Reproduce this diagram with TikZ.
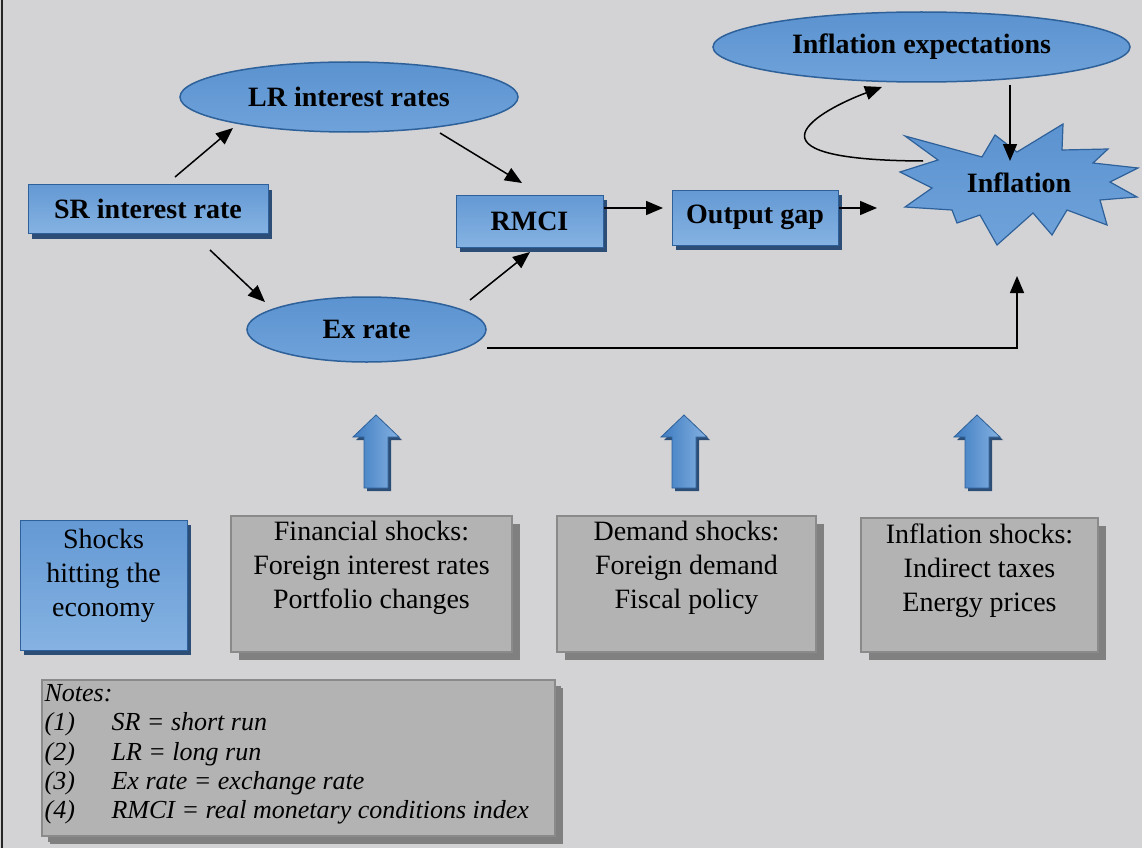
\documentclass[tikz,border=0pt]{standalone}
\usepackage{fontspec}
\setmainfont{LiberationSerif}[Extension=.ttf,UprightFont=*-Regular,BoldFont=*-Bold,ItalicFont=*-Italic,BoldItalicFont=*-BoldItalic]
\usetikzlibrary{shapes.geometric,arrows.meta,shadows}
\definecolor{bg}{HTML}{D3D3D5}
\definecolor{blueA}{HTML}{6499D4}
\definecolor{blueB}{HTML}{3D7BC0}
\definecolor{blueC}{HTML}{85B2E2}
\definecolor{ellA}{HTML}{5B93D0}
\definecolor{ellB}{HTML}{3B78BD}
\definecolor{ellC}{HTML}{6FA2DA}
\definecolor{blueedge}{HTML}{2E6099}
\definecolor{blueshadow}{HTML}{2C4E76}
\definecolor{grayfill}{HTML}{B3B3B3}
\definecolor{grayedge}{HTML}{8A8A8A}
\definecolor{grayshadow}{HTML}{808080}
\begin{document}
\begin{tikzpicture}[x=1pt,y=-1pt,
  arr/.style={line width=1.5pt,-{Triangle[length=17pt,width=14pt]}},
  bluefill/.style={top color=blueA,middle color=blueB,bottom color=blueC},
  ellfill/.style={top color=ellA,middle color=ellB,bottom color=ellC},
  lbl/.style={font=\fontsize{28}{32}\selectfont\bfseries},
  bluebox/.style={rectangle,draw=blueedge,line width=1pt,bluefill,inner sep=0pt,lbl,
    general shadow={fill=blueshadow,shadow xshift=4pt,shadow yshift=-5pt}},
  blueell/.style={ellipse,draw=blueedge,line width=1.5pt,ellfill,inner sep=0pt,lbl},
  graybox/.style={rectangle,draw=grayedge,line width=1.5pt,fill=grayfill,inner sep=0pt,
    general shadow={fill=grayshadow,shadow xshift=8pt,shadow yshift=-8pt}},
  shocktext/.style={align=center,inner sep=0pt,font=\fontsize{28}{34}\selectfont},
  uparrow/.pic={
    \fill[blueshadow] (3,3) -- (26,25) -- (15,25) -- (15,76) -- (-9,76) -- (-9,25) -- (-20,25) -- cycle;
    \path[draw=blueedge,line width=0.8pt,left color=blueB,right color=blueC]
      (0,0) -- (23,22) -- (12,22) -- (12,73) -- (-12,73) -- (-12,22) -- (-23,22) -- cycle;
  }]
\useasboundingbox (0,0) rectangle (1142,848);
\fill[bg] (0,0) rectangle (1142,848);
\draw[line width=2pt,black!85] (1.5,0) -- (1.5,848);

% upper diagram
\node[blueell,minimum width=338pt,minimum height=70pt] (lr) at (349,97) {LR interest rates};
\node[blueell,minimum width=417pt,minimum height=70pt] (exp) at (921.5,47) {Inflation expectations};
\node[blueell,minimum width=239pt,minimum height=65pt] (ex) at (366.5,329.5) {Ex rate};
\node[bluebox,minimum width=240pt,minimum height=49pt] (sr) at (148,209) {SR interest rate};
\node[bluebox,minimum width=147pt,minimum height=52pt] (rmci) at (529.5,221) {RMCI};
\node[bluebox,minimum width=166pt,minimum height=55pt] (out) at (755,217.5) {Output gap};

% starburst
\path[draw=blueedge,line width=1.2pt,top color=ellA,middle color=ellB,bottom color=ellC]
  (900,172) -- (938,160) -- (905,136) -- (982,157) -- (995,135) -- (1017,152)
  -- (1063,124) -- (1062,150) -- (1108,149) -- (1093,163) -- (1138,168) -- (1110,182)
  -- (1137,197) -- (1100,200) -- (1107,225) -- (1067,210) -- (1052,235) -- (1033,213)
  -- (997,245) -- (980,215) -- (957,223) -- (952,210) -- (905,207) -- (932,188) -- cycle;
\node[lbl,inner sep=0pt] (infl) at (1019,183) {Inflation};

% connectors
\draw[arr] ([shift={(27,-32)}]sr.center) -- ([shift={(-116,31)}]lr.center);
\draw[arr] ([shift={(91,36)}]lr.center) -- ([shift={(-7.5,-38)}]rmci.center);
\draw[arr] ([shift={(62,41)}]sr.center) -- ([shift={(-101.5,-27.5)}]ex.center);
\draw[arr] ([shift={(103.5,-29.5)}]ex.center) -- ([shift={(0.5,31)}]rmci.center);
\draw[arr] ([shift={(74.5,-13)}]rmci.center) -- ([shift={(-92,-9.5)}]out.center);
\draw[arr] ([shift={(84,-9.5)}]out.center) -- ([shift={(-142,25)}]infl.center);
\draw[arr] ([shift={(120.5,18.5)}]ex.center) -| ([shift={(-2,93)}]infl.center);
\draw[arr] ([shift={(88.5,38)}]exp.center) -- ([shift={(-9,-22)}]infl.center);
\draw[arr] ([shift={(-96,-22)}]infl.center) .. controls +(-193,-1) and +(-62,23) .. ([shift={(-39.5,40)}]exp.center);

% block arrows
\pic at (376,415) {uparrow};
\pic at (684,415) {uparrow};
\pic at (977,415) {uparrow};

% shocks
\node[bluebox,minimum width=167pt,minimum height=130pt] (shk) at (103.5,585) {};
\node[shocktext,anchor=north] (shkt) at ([shift={(0,9)}]shk.north) {Shocks\\hitting the\\economy};
\node[graybox,minimum width=281pt,minimum height=136pt] (fin) at (371.5,584) {};
\node[shocktext,anchor=north] (fint) at ([shift={(0,6)}]fin.north) {Financial shocks:\\Foreign interest rates\\Portfolio changes};
\node[graybox,minimum width=259pt,minimum height=136pt] (dem) at (686.5,584) {};
\node[shocktext,anchor=north] (demt) at ([shift={(0,6)}]dem.north) {Demand shocks:\\Foreign demand\\Fiscal policy};
\node[graybox,minimum width=237pt,minimum height=134pt] (infs) at (979.5,585) {};
\node[shocktext,anchor=north] (infst) at ([shift={(0,6)}]infs.north) {Inflation shocks:\\Indirect taxes\\Energy prices};

% notes
\node[graybox,line width=1.2pt,general shadow={fill=grayshadow,shadow xshift=6pt,shadow yshift=-6pt},
  minimum width=513pt,minimum height=156pt] (notes) at (298.5,758) {};
\node[anchor=north west,align=left,inner xsep=3pt,inner ysep=5pt,
  font=\fontsize{26}{29.3}\selectfont\itshape] (notest) at (notes.north west)
  {Notes:\\
   \makebox[67pt][l]{(1)}SR = short run\\
   \makebox[67pt][l]{(2)}LR = long run\\
   \makebox[67pt][l]{(3)}Ex rate = exchange rate\\
   \makebox[67pt][l]{(4)}RMCI = real monetary conditions index};
\end{tikzpicture}
\end{document}
